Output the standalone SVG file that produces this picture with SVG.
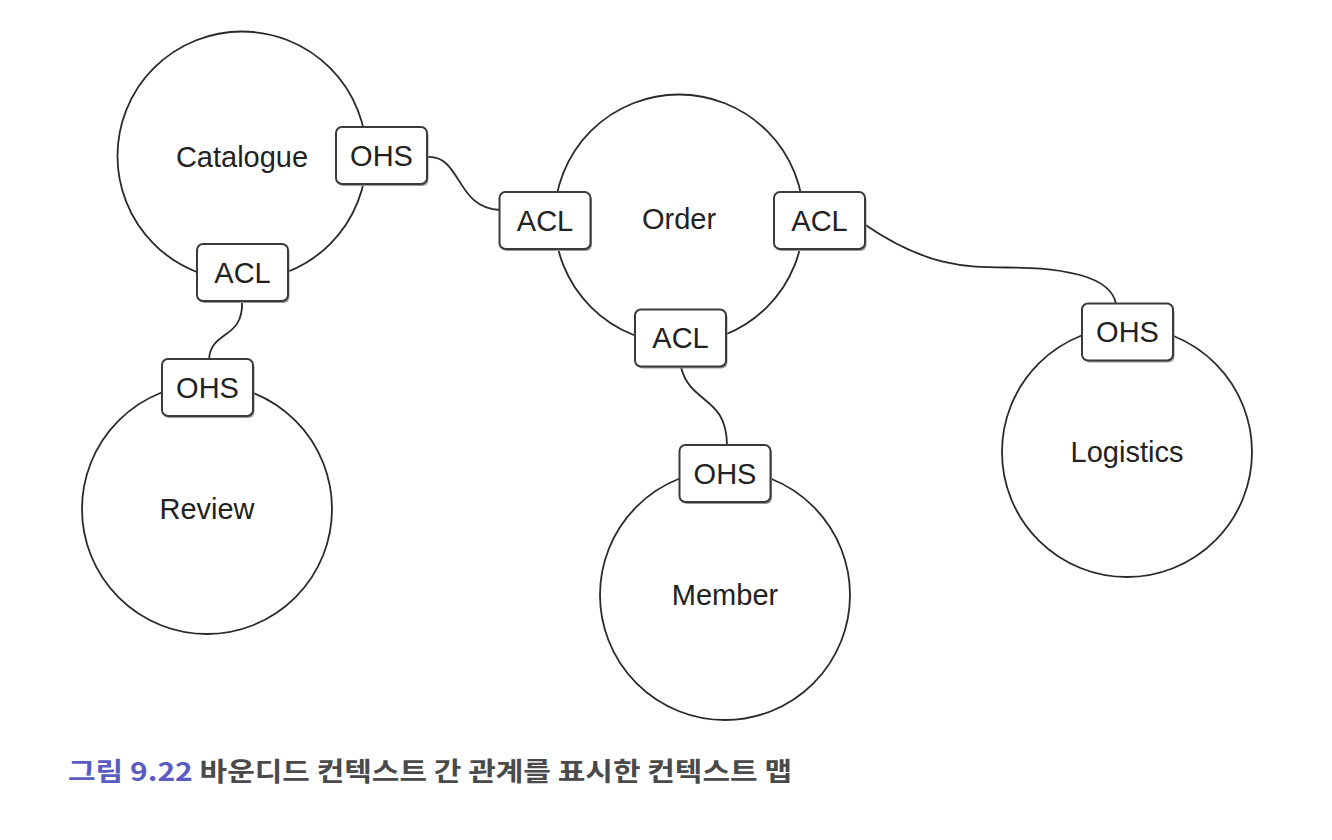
<svg xmlns="http://www.w3.org/2000/svg" width="1332" height="840" viewBox="0 0 1332 840">
<style>
.ctx{fill:none;stroke:#2a2a2a;stroke-width:1.8}
.box{fill:#fff;stroke:#3a3a3a;stroke-width:2}
.sh{fill:#9a9a9a}
.lbl{font-family:"Liberation Sans",Arial,sans-serif;font-size:29px;fill:#222;text-anchor:middle;dominant-baseline:central}
.con{fill:none;stroke:#2a2a2a;stroke-width:1.8}
.cap{font-family:"Noto Sans CJK KR","Noto Sans",sans-serif;font-size:26px;font-weight:bold}
</style>
<defs>
<g id="b"><rect class="sh" x="-44" y="-26.5" width="91" height="57" rx="6"/><rect class="box" x="-45.5" y="-28.5" width="91" height="57" rx="6"/></g>
</defs>
<rect width="1332" height="840" fill="#fff"/>
<g id="connectors">
<path class="con" d="M427,157 C462,155 455,208 500,210"/>
<path class="con" d="M242,301 C244,340 210,330 209,360"/>
<path class="con" d="M681,367 C690,405 727,395 727,446"/>
<path class="con" d="M864,224 C960,290 1000,255 1080,275 C1105,282 1114,292 1116,304"/>
</g>
<g id="catalogue"><circle class="ctx" cx="242" cy="156" r="124.5"/><text class="lbl" x="242" y="157">Catalogue</text></g>
<g id="order"><circle class="ctx" cx="679" cy="219" r="124.5"/><text class="lbl" x="679" y="219">Order</text></g>
<g id="review"><circle class="ctx" cx="207" cy="509" r="125"/><text class="lbl" x="207" y="509">Review</text></g>
<g id="member"><circle class="ctx" cx="725" cy="595" r="125"/><text class="lbl" x="725" y="595">Member</text></g>
<g id="logistics"><circle class="ctx" cx="1127" cy="452" r="125"/><text class="lbl" x="1127" y="452">Logistics</text></g>
<g id="catalogue-ohs" transform="translate(381.5,155.5)"><use href="#b"/><text class="lbl" x="0" y="0">OHS</text></g>
<g id="catalogue-acl" transform="translate(242.5,272.5)"><use href="#b"/><text class="lbl" x="0" y="0">ACL</text></g>
<g id="review-ohs" transform="translate(207.5,387.5)"><use href="#b"/><text class="lbl" x="0" y="0">OHS</text></g>
<g id="order-acl-left" transform="translate(545,220.5)"><use href="#b"/><text class="lbl" x="0" y="0">ACL</text></g>
<g id="order-acl-right" transform="translate(819.5,220.5)"><use href="#b"/><text class="lbl" x="0" y="0">ACL</text></g>
<g id="order-acl-bottom" transform="translate(680.5,338)"><use href="#b"/><text class="lbl" x="0" y="0">ACL</text></g>
<g id="member-ohs" transform="translate(725,473.5)"><use href="#b"/><text class="lbl" x="0" y="0">OHS</text></g>
<g id="logistics-ohs" transform="translate(1127.5,332)"><use href="#b"/><text class="lbl" x="0" y="0">OHS</text></g>
<g id="caption"><text class="cap" x="68" y="781" textLength="724" lengthAdjust="spacingAndGlyphs"><tspan fill="#5a5cc4">그림 9.22</tspan><tspan fill="#4a4a4a"> 바운디드 컨텍스트 간 관계를 표시한 컨텍스트 맵</tspan></text></g>
</svg>
